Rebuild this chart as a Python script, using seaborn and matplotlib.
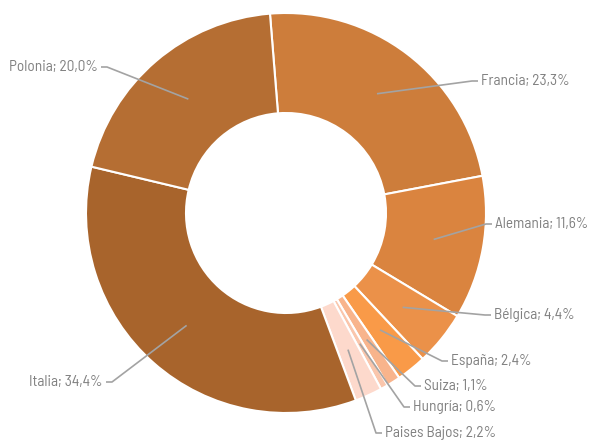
import numpy as np
import matplotlib
matplotlib.use("Agg")
import matplotlib.pyplot as plt
import seaborn as sns

countries = ["Francia", "Alemania", "Bélgica", "España", "Suiza", "Hungría",
             "Paises Bajos", "Italia", "Polonia"]
shares = [23.3, 11.6, 4.4, 2.4, 1.1, 0.6, 2.2, 34.4, 20.0]
labels = ["Francia; 23,3%", "Alemania; 11,6%", "Bélgica; 4,4%", "España; 2,4%",
          "Suiza; 1,1%", "Hungría; 0,6%", "Paises Bajos; 2,2%", "Italia; 34,4%",
          "Polonia; 20,0%"]
colors = ["#CD7D3B", "#DA843F", "#EB9149", "#F99A48", "#F8B48C", "#FAC6AC",
          "#FDD9CC", "#A8642C", "#B56E33"]
# label anchor positions (data units, pie radius = 1)
label_pos = [(0.975, 0.66), (1.045, -0.055), (1.04, -0.51), (0.825, -0.74),
             (0.69, -0.865), (0.635, -0.97), (0.495, -1.10), (-0.915, -0.845),
             (-0.94, 0.73)]

sns.set_style("white")
plt.rcParams['font.family'] = ['Barlow Semi Condensed', 'DejaVu Sans']

fig = plt.figure(figsize=(5.92, 4.43), dpi=100)
ax = fig.add_axes([0, 0, 1, 1])
start = 94.6
wedges, _ = ax.pie(shares, colors=colors, startangle=start, counterclock=False,
                   radius=1.0, wedgeprops=dict(width=0.5, edgecolor="white", linewidth=1.5))

total = sum(shares)
cum = 0.0
for w, v, lab, (tx, ty) in zip(wedges, shares, labels, label_pos):
    mid = np.deg2rad(start - 360 * (cum + v / 2) / total)
    cum += v
    px, py = 0.75 * np.cos(mid), 0.75 * np.sin(mid)
    side = 1 if tx > 0 else -1
    ex = tx - side * 0.045
    fx = tx - side * 0.015
    ax.plot([px, ex, fx], [py, ty, ty], color="#A3A3A3", lw=1.2, solid_capstyle="butt")
    ax.text(tx, ty, lab, ha="left" if side > 0 else "right", va="center",
            color="#808080", fontsize=11)

ax.set_xlim(-1.43, 1.53)
ax.set_ylim(-1.15, 1.065)
ax.set_aspect("equal")
ax.axis("off")
fig.savefig("out.png", dpi=100)
